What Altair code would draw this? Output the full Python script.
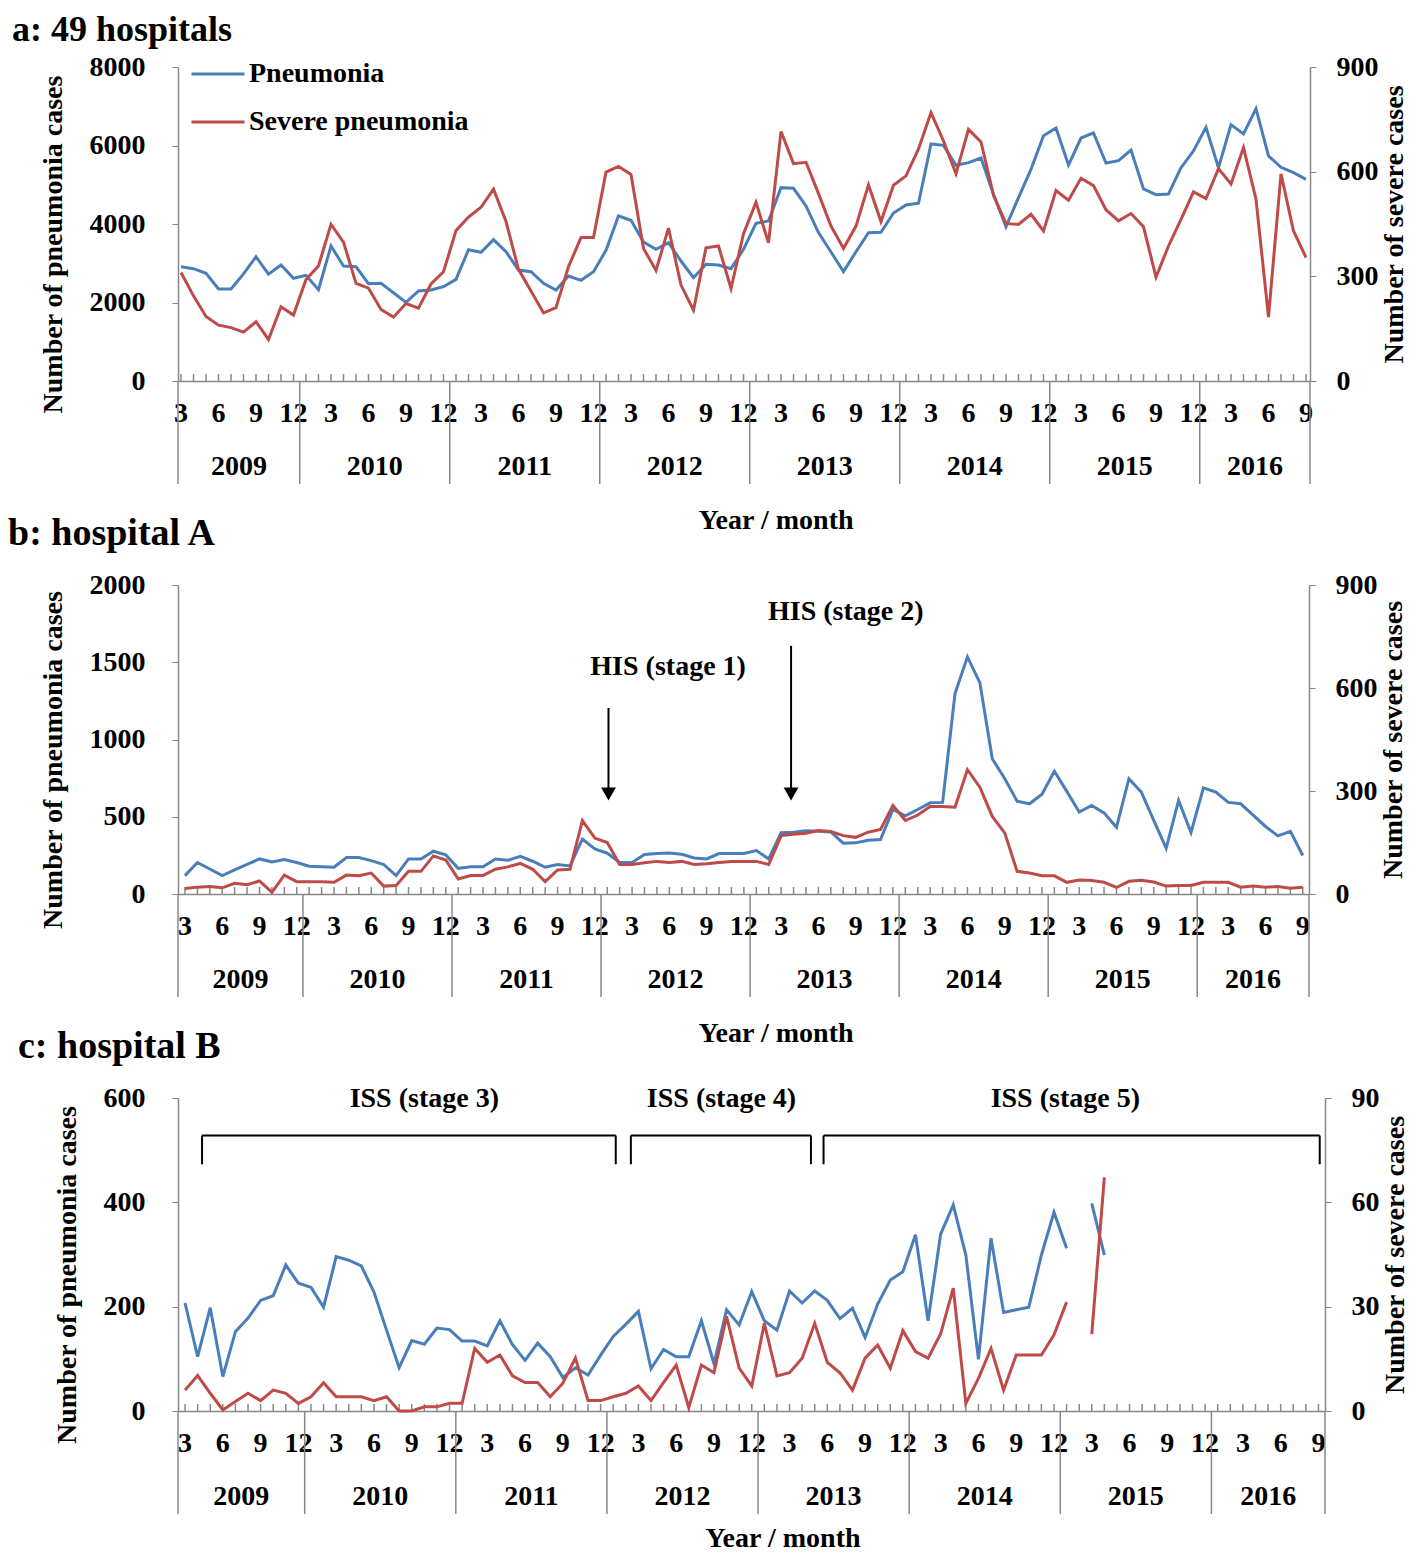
import altair as alt
import pandas as pd

FONT = "Liberation Serif"
BLUE = "#4a7ebb"
RED = "#be4b48"
GRAY = "#888888"
SERIES = ["Pneumonia", "Severe pneumonia"]

START_YEAR = 2009
START_MONTH = 3
N_MONTHS = 91

# ---- panel a: 49 hospitals ----
pneu_a = [2912, 2861, 2743, 2344, 2344, 2730, 3167, 2720, 2955, 2616,
          2693, 2327, 3440, 2930, 2912, 2480, 2488, 2250, 2004, 2293,
          2318, 2403, 2590, 3346, 3278, 3600, 3295, 2828, 2786, 2490,
          2318, 2675, 2565, 2786, 3329, 4204, 4094, 3541, 3355, 3524,
          3057, 2633, 2973, 2955, 2862, 3355, 4017, 4076, 4926, 4909,
          4459, 3780, 3287, 2786, 3295, 3780, 3788, 4280, 4484, 4530,
          6038, 6004, 5495, 5563, 5682, 4756, 3932, 4671, 5393, 6251,
          6446, 5503, 6191, 6319, 5554, 5614, 5885, 4892, 4747, 4764,
          5435, 5860, 6463, 5435, 6531, 6293, 6939, 5733, 5444, 5308,
          5138]
sev_a = [311, 244, 185, 160, 153, 140, 170, 119, 213, 189,
         291, 330, 449, 398, 280, 266, 205, 183, 222, 209,
         278, 313, 431, 470, 498, 550, 457, 320, 258, 195,
         210, 328, 411, 411, 599, 615, 592, 380, 317, 438,
         275, 203, 382, 387, 265, 422, 512, 396, 715, 623,
         627, 537, 444, 380, 444, 562, 457, 561, 588, 665,
         769, 688, 594, 721, 685, 532, 451, 449, 478, 430,
         546, 518, 581, 560, 491, 459, 480, 442, 298, 387,
         463, 542, 523, 609, 565, 669, 521, 183, 594, 430,
         354]

# ---- panel b: hospital A ----
pneu_b = [119, 204, 162, 119, 156, 191, 227, 208, 223, 204,
          180, 177, 173, 236, 236, 216, 191, 119, 227, 227,
          277, 253, 166, 177, 177, 227, 218, 244, 212, 173,
          191, 182, 355, 292, 264, 204, 204, 256, 262, 266,
          257, 233, 227, 262, 262, 262, 281, 227, 396, 400,
          409, 406, 402, 329, 331, 348, 353, 547, 506, 547,
          590, 593, 1297, 1535, 1368, 875, 748, 601, 584, 646,
          794, 664, 530, 573, 525, 432, 746, 659, 476, 296,
          606, 398, 687, 659, 593, 584, 510, 437, 376, 405,
          249]
sev_b = [16, 20, 22, 18, 31, 27, 38, 5, 55, 36,
         36, 36, 34, 55, 53, 61, 23, 25, 66, 66,
         111, 99, 44, 54, 54, 72, 79, 89, 72, 36,
         70, 72, 214, 163, 150, 86, 86, 91, 95, 92,
         95, 86, 88, 92, 95, 95, 95, 86, 170, 174,
         177, 185, 182, 170, 165, 180, 188, 258, 214, 230,
         255, 255, 253, 362, 311, 226, 178, 66, 61, 53,
         53, 34, 41, 39, 34, 19, 37, 40, 35, 23,
         25, 25, 34, 34, 34, 20, 23, 20, 22, 17,
         20]

# ---- panel c: hospital B (None = no data) ----
pneu_c = [207, 104, 198, 66, 152, 178, 212, 221, 280, 245,
          237, 199, 296, 289, 278, 228, 155, 83, 135, 128,
          159, 156, 134, 134, 125, 173, 127, 97, 130, 104,
          64, 83, 69, 107, 143, 166, 191, 81, 118, 104,
          104, 173, 91, 194, 165, 229, 173, 155, 230, 207,
          230, 212, 177, 197, 141, 205, 251, 267, 338, 173,
          339, 395, 299, 99, 331, 189, 194, 199, 299, 381,
          312, None, 398, 299, None, None, None, None, None, None,
          None, None, None, None, None, None, None, None, None, None,
          None]
sev_c = [6.0, 10.2, 5.1, 0.3, 2.7, 5.1, 3.0, 6.0, 5.1, 2.2,
         4.1, 8.1, 4.1, 4.1, 4.1, 3.0, 4.1, 0.0, 0.0, 1.2,
         1.2, 2.2, 2.2, 18.0, 14.0, 16.1, 10.1, 8.2, 8.2, 4.1,
         8.0, 15.2, 3.0, 3.0, 4.1, 5.1, 7.2, 3.0, 8.2, 13.2,
         1.0, 13.2, 11.0, 27.2, 12.3, 7.2, 25.2, 10.1, 11.0, 15.2,
         25.2, 14.0, 11.0, 6.0, 15.2, 19.0, 12.3, 23.1, 17.1, 15.2,
         22.2, 35.3, 2.2, 9.4, 18.0, 6.0, 16.1, 16.1, 16.1, 21.9,
         31.3, None, 22.1, 67.2, None, None, None, None, None, None,
         None, None, None, None, None, None, None, None, None, None,
         None]

# ---- annotations ----
his_arrow_i = [34.1, 48.8]
his_arrow_top = [1204, 1606]
his_arrow_tip = [647, 647]
his_text = ["HIS (stage 1)", "HIS (stage 2)"]
his_text_i = [38.9, 53.2]
his_text_y = [1470, 1827]

iss_start = [1.35, 35.4, 50.7]
iss_end = [34.2, 49.7, 90.1]
iss_line_y = 528
iss_foot_y = 473
iss_text = ["ISS (stage 3)", "ISS (stage 4)", "ISS (stage 5)"]
iss_text_i = [19.0, 42.6, 69.9]
iss_text_y = 599


def month_frame():
    rows = []
    for i in range(N_MONTHS):
        k = START_MONTH - 1 + i
        rows.append({"i": i, "month": k % 12 + 1, "year": START_YEAR + k // 12})
    return pd.DataFrame(rows)


MONTHS = month_frame()


def series_frame(values, name):
    df = MONTHS[["i"]].copy()
    df["v"] = pd.to_numeric(pd.Series(values, dtype="object"), errors="coerce")
    df["series"] = name
    df["seg"] = df["v"].isna().cumsum()
    return df.dropna(subset=["v"])


def text_mark(size=28):
    return dict(font=FONT, fontWeight="bold", fontSize=size, color="black")


def build_panel(label, label_x, label_y, pneu, sev, left_max, left_step,
                right_max, right_step, x_domain, width, height, xtitle_x,
                xtitle_dy=140, legend=False, extra=None, label_size=40):
    xs = alt.Scale(domain=x_domain, nice=False, zero=False)
    x_axis = alt.Axis(labels=False, ticks=False, title=None, grid=False,
                      domainColor=GRAY, domainWidth=1.5)

    def X(field):
        return alt.X(field, scale=xs, axis=x_axis)

    left_scale = alt.Scale(domain=[0, left_max], nice=False, zero=True)
    left_axis = alt.Axis(values=list(range(0, left_max + 1, left_step)), format="d",
                         title="Number of pneumonia cases", orient="left",
                         tickSize=6, labelPadding=27, titlePadding=22,
                         titleY=height / 2 + 20, grid=False,
                         domainColor=GRAY, tickColor=GRAY, domainWidth=1.5)
    right_scale = alt.Scale(domain=[0, right_max], nice=False, zero=True)
    right_axis = alt.Axis(values=list(range(0, right_max + 1, right_step)), format="d",
                          title="Number of severe cases", orient="right",
                          tickSize=6, labelPadding=20, titlePadding=2,
                          titleAngle=270, titleBaseline="top", grid=False,
                          domainColor=GRAY, tickColor=GRAY, domainWidth=1.5)

    def YL(field):
        return alt.Y(field, scale=left_scale, axis=left_axis)

    if legend:
        color = alt.Color("series:N",
                          scale=alt.Scale(domain=SERIES, range=[BLUE, RED]),
                          legend=alt.Legend(orient="none", legendX=12, legendY=-21,
                                            title=None, symbolType="stroke",
                                            symbolSize=2809, symbolStrokeWidth=3,
                                            labelFont=FONT, labelFontSize=28,
                                            labelFontWeight="bold", labelColor="black",
                                            labelOffset=3, labelLimit=500,
                                            rowPadding=6))
        blue = alt.Chart(series_frame(pneu, SERIES[0])).mark_line(strokeWidth=3).encode(
            x=X("i:Q"), y=YL("v:Q"), color=color, detail="seg:N")
        red = alt.Chart(series_frame(sev, SERIES[1])).mark_line(strokeWidth=3).encode(
            x=X("i:Q"), y=alt.Y("v:Q", scale=right_scale, axis=right_axis),
            color=color, detail="seg:N")
    else:
        blue = alt.Chart(series_frame(pneu, SERIES[0])).mark_line(
            strokeWidth=3, color=BLUE).encode(x=X("i:Q"), y=YL("v:Q"), detail="seg:N")
        red = alt.Chart(series_frame(sev, SERIES[1])).mark_line(
            strokeWidth=3, color=RED).encode(
            x=X("i:Q"), y=alt.Y("v:Q", scale=right_scale, axis=right_axis),
            detail="seg:N")

    # monthly minor ticks
    ticks = alt.Chart(MONTHS).mark_rule(color=GRAY, strokeWidth=1.5).encode(
        x=X("i:Q"), y=alt.value(height - 7), y2=alt.value(height))
    # month labels
    mlab = alt.Chart(MONTHS[MONTHS["month"] % 3 == 0]).mark_text(
        baseline="middle", align="center", **text_mark()).encode(
        x=X("i:Q"), y=alt.value(height + 33), text=alt.Text("month:Q", format="d"))
    # year separators and labels
    ends = MONTHS[(MONTHS["month"] == 12) & (MONTHS["i"] < N_MONTHS - 1)]["i"] + 0.5
    bounds = [x_domain[0]] + list(ends) + [x_domain[1]]
    sep_df = pd.DataFrame({"i": bounds})
    seps = alt.Chart(sep_df).mark_rule(color=GRAY, strokeWidth=1.5).encode(
        x=X("i:Q"), y=alt.value(height), y2=alt.value(height + 103))
    years = sorted(MONTHS["year"].unique())
    yr_df = pd.DataFrame({"year": years,
                          "i": [(bounds[k] + bounds[k + 1]) / 2 for k in range(len(years))]})
    ylab = alt.Chart(yr_df).mark_text(baseline="middle", align="center", **text_mark()).encode(
        x=X("i:Q"), y=alt.value(height + 86), text=alt.Text("year:Q", format="d"))
    xt = alt.Chart(pd.DataFrame({"t": ["Year / month"]})).mark_text(
        baseline="middle", align="center", **text_mark()).encode(
        x=alt.value(xtitle_x), y=alt.value(height + xtitle_dy), text="t:N")
    ptitle = alt.Chart(pd.DataFrame({"t": [label]})).mark_text(
        baseline="top", align="left", **text_mark(label_size)).encode(
        x=alt.value(label_x), y=alt.value(label_y), text="t:N")

    left_layers = [blue, ticks, mlab, seps, ylab, xt, ptitle]
    if extra is not None:
        left_layers += extra(X, YL)
    left = alt.layer(*left_layers)
    return alt.layer(left, red).resolve_scale(y="independent").properties(
        width=width, height=height)


def his_annotations(X, YL):
    arr = pd.DataFrame({"i": his_arrow_i, "top": his_arrow_top, "tip": his_arrow_tip})
    txt = pd.DataFrame({"i": his_text_i, "y": his_text_y, "t": his_text})
    shaft = alt.Chart(arr).mark_rule(color="black", strokeWidth=2).encode(
        x=X("i:Q"), y=YL("top:Q"), y2="tip:Q")
    head = alt.Chart(arr).mark_point(shape="triangle-down", filled=True, size=220,
                                     color="black", opacity=1).encode(
        x=X("i:Q"), y=YL("tip:Q"))
    label = alt.Chart(txt).mark_text(baseline="middle", align="center", **text_mark()).encode(
        x=X("i:Q"), y=YL("y:Q"), text="t:N")
    return [shaft, head, label]


def iss_annotations(X, YL):
    br = pd.DataFrame({"i": iss_start, "e": iss_end,
                       "y": [iss_line_y] * len(iss_start)})
    feet = pd.DataFrame({"i": iss_start + iss_end,
                         "y": [iss_line_y] * (2 * len(iss_start)),
                         "y2": [iss_foot_y] * (2 * len(iss_start))})
    txt = pd.DataFrame({"i": iss_text_i, "y": [iss_text_y] * len(iss_text), "t": iss_text})
    hline = alt.Chart(br).mark_rule(color="black", strokeWidth=2).encode(
        x=X("i:Q"), x2="e:Q", y=YL("y:Q"))
    vline = alt.Chart(feet).mark_rule(color="black", strokeWidth=2).encode(
        x=X("i:Q"), y=YL("y:Q"), y2="y2:Q")
    label = alt.Chart(txt).mark_text(baseline="middle", align="center", **text_mark()).encode(
        x=X("i:Q"), y=YL("y:Q"), text="t:N")
    return [hline, vline, label]


panel_a = build_panel("a: 49 hospitals", -166, -54, pneu_a, sev_a, 8000, 2000, 900, 300,
                      [-0.24, 90.32], 1132, 314, 598, legend=True, label_size=36)
panel_b = build_panel("b: hospital A", -170, -70, pneu_b, sev_b, 2000, 500, 900, 300,
                      [-0.56, 90.5], 1131, 309, 598, extra=his_annotations, label_size=38)
panel_c = build_panel("c: hospital B", -160, -70, pneu_c, sev_c, 600, 200, 90, 30,
                      [-0.56, 90.52], 1147, 313, 605, xtitle_dy=128,
                      extra=iss_annotations, label_size=38)

chart = alt.vconcat(panel_a, panel_b, panel_c, spacing=204, bounds="flush").resolve_scale(
    x="independent").properties(
    padding={"top": 4, "left": 0, "right": 0, "bottom": 0}).configure_view(
    stroke=None).configure_axis(
    labelFont=FONT, labelFontWeight="bold", labelFontSize=28, labelColor="black",
    titleFont=FONT, titleFontWeight="bold", titleFontSize=28, titleColor="black")

chart.save("out.html", embed_options={"renderer": "svg", "actions": False})
